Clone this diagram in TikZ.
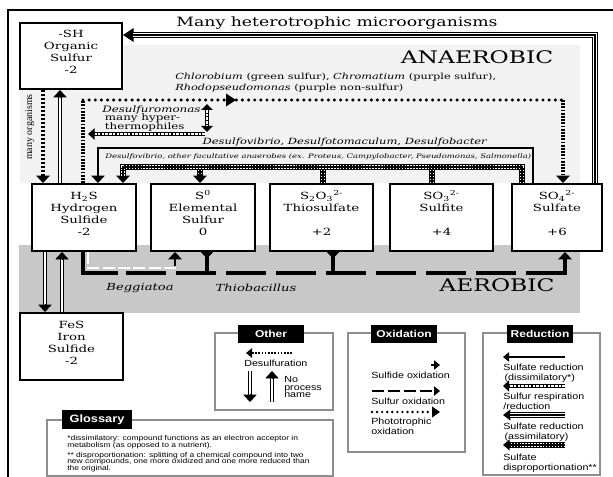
\documentclass[tikz,border=0pt]{standalone}
\usepackage{fontspec}
\setmainfont{DejaVu Serif}[FakeStretch=1.35]
\newfontfamily\legfont{Liberation Sans}[FakeStretch=1.2]
\newfontfamily\narrowserif{Liberation Serif}
\usetikzlibrary{arrows.meta,calc,fit}
\definecolor{anaero}{HTML}{F2F2F2}
\definecolor{aero}{HTML}{C8C8C8}
\definecolor{legline}{HTML}{8E8E8E}
\definecolor{sulfgray}{HTML}{444444}
% layered connector styles
\newcommand\chainpath[3]{%
  \draw[line width=3.2pt,#1] #3;
  \draw[white,line width=1.5pt,dash pattern=on 1.9pt off 0.9pt,#2] #3;}
\newcommand\checkpath[3]{%
  \draw[line width=5pt,#1] #3;
  \draw[white,line width=3pt,dash pattern=on 1.1pt off 1.1pt,#2] #3;
  \draw[line width=0.8pt,#2] #3;}
\newcommand\triplepath[3]{%
  \draw[line width=5pt,#1] #3;
  \draw[white,line width=2.6pt,#2] #3;
  \draw[line width=0.8pt,#2] #3;}
\newcommand\dblpath[2]{%
  \draw[dbl,shorten >=5pt] (#1) -- (#2);
  \draw[tipA,line width=0.5pt] ($(#2)!6pt!(#1)$) -- (#2);}
\tikzset{
  sbox/.style={draw,line width=1.5pt,fill=white,inner sep=0pt,align=center,
    font=\fontsize{7.4}{9}\selectfont},
  big/.style={font=\fontsize{13}{15}\selectfont,inner sep=0pt},
  tipA/.style={-{Triangle[length=5.5pt,width=10pt]}},
  tipS/.style={-{Triangle[length=4.5pt,width=7pt]}},
  dbl/.style={draw,line width=0.6pt,double=white,double distance=1.7pt},
  dotsq/.style={line width=3pt,dash pattern=on 1.5pt off 1.5pt},
  dotrd/.style={line width=2.6pt,line cap=round,dash pattern=on 0pt off 4.6pt},
  dotvert/.style={line width=2.4pt,dash pattern=on 1.3pt off 1.1pt},
  thinline/.style={line width=0.9pt},
  sulfox/.style={line width=2.3pt,dash pattern=on 30pt off 7.5pt,dash phase=27pt},
  sulfoxs/.style={line width=2.3pt},
  sulfide/.style={draw=sulfgray,line width=0.55pt,double=white,double distance=1pt,
    dash pattern=on 9pt off 2.5pt},
  lbl/.style={inner sep=0pt},
  legbox/.style={draw=legline,line width=0.8pt,inner sep=0pt},
  tab/.style={fill=black,text=white,font=\legfont\bfseries\fontsize{7.5}{8}\selectfont,
    minimum width=50pt,minimum height=13.5pt,inner sep=1pt},
  legtxt/.style={anchor=west,inner sep=0pt,align=left,font=\legfont\fontsize{6.7}{7.4}\selectfont},
}
\begin{document}
\begin{tikzpicture}[x=0.75pt,y=-0.75pt]
\useasboundingbox (0,0) rectangle (613,477);
% backgrounds
\fill[anaero] (20,45) rectangle (580,183);
\fill[aero] (19,245) rectangle (580,313);
\draw[line width=0.8pt] (8,477) -- (8,10) -- (613,10);

\foreach \xx in {43,45,60,62,83,88,98,123,175,200,207,323,333,432,522,533,563,565,595}
  \coordinate (X\xx) at (\xx,0);
\coordinate (Y35) at (0,35);

% compound boxes
\node[sbox,fit={(20,23) (122,89)}] (org) {-SH\\Organic\\Sulfur\\-2};
\node[sbox,fit={(32,184) (136,251)}] (h2s) {H\textsubscript{2}S\\Hydrogen\\Sulfide\\-2};
\node[sbox,fit={(151,184) (255,251)}] (s0) {S\textsuperscript{0}\\Elemental\\Sulfur\\0};
\node[sbox,fit={(270,184) (373,251)}] (s2o3) {S\textsubscript{2}O\textsubscript{3}\textsuperscript{2-}\\Thiosulfate\\\mbox{}\\+2};
\node[sbox,fit={(390,184) (493,251)}] (so3) {SO\textsubscript{3}\textsuperscript{2-}\\Sulfite\\\mbox{}\\+4};
\node[sbox,fit={(512,184) (602,251)}] (so4) {SO\textsubscript{4}\textsuperscript{2-}\\Sulfate\\\mbox{}\\+6};
\node[sbox,fit={(20,313) (123,380)}] (fes) {FeS\\Iron\\Sulfide\\-2};

% labels
\node[lbl,font=\fontsize{9.6}{11}\selectfont] (hetero) at (337,23) {Many heterotrophic microorganisms};
\node[big] (anaer) at (477,57) {ANAEROBIC};
\node[big] (aer) at (497,285) {AEROBIC};
\node[lbl,anchor=west,align=left,font=\fontsize{6.3}{8.3}\selectfont] (chl) at (175,82.5)
  {\textit{Chlorobium} (green sulfur), \textit{Chromatium} (purple sulfur),\\\textit{Rhodopseudomonas} (purple non-sulfur)};
\node[lbl,anchor=west,align=left,font=\fontsize{6.6}{6.5}\selectfont] (dfm) at (102,118.5)
  {\textit{Desulfuromonas}\\\hspace{2pt}many hyper-\\\hspace{2pt}thermophiles};
\node[lbl,anchor=east,font=\fontsize{6.4}{8}\itshape\selectfont] (dsv) at (487,142)
  {Desulfovibrio, Desulfotomaculum, Desulfobacter};
\node[lbl,anchor=west,font=\fontsize{4.7}{6}\itshape\selectfont] (fac) at (105,157)
  {Desulfovibrio, other facultative anaerobes (ex. Proteus, Campylobacter, Pseudomonas, Salmonella)};
\node[lbl,rotate=90,font=\narrowserif\fontsize{7.5}{8}\selectfont] (manyorg) at (30,127) {many organisms};
\node[lbl,font=\fontsize{7.3}{9}\itshape\selectfont] (beg) at (140,288) {Beggiatoa};
\node[lbl,font=\fontsize{7.3}{9}\itshape\selectfont] (thio) at (256,288) {Thiobacillus};

% assimilatory sulfate reduction (top)
\triplepath{-{Triangle[length=8pt,width=10pt]}}{shorten >=7.5pt}{(so4.north -| X595) -- (595,35) -- (org.east |- Y35)}

% organic <-> H2S
\draw[dotsq,tipA] (org.south -| X43) -- (h2s.north -| X43);
\coordinate (dA) at (h2s.north -| X60);
\coordinate (dB) at (org.south -| X60);
\dblpath{dA}{dB}

% phototrophic oxidation
\draw[dotvert] (h2s.north -| X83) -- (83,100);
\draw[dotrd] (83,100) -- (563,100);
\fill (236,100) -- (226,93.5) -- (226,106.5) -- cycle;
\draw[dotvert,tipA] (563,100) -- (so4.north -| X563);

% sulfur respiration
\coordinate (srA) at (205,134);
\coordinate (srB) at (88,134);
\chainpath{-{Triangle[length=5pt,width=8.5pt]}}{shorten >=5pt}{(srA) -- (srB)}
\coordinate (srC) at (207,104);
\coordinate (srD) at (207,132);
\chainpath{{Triangle[length=4.5pt,width=8.5pt]}-{Triangle[length=4.5pt,width=8.5pt]}}{shorten >=4.5pt,shorten <=4.5pt}{(srC) -- (srD)}

% dissimilatory sulfate reduction
\draw[thinline,tipA] (so4.north -| X533) -- (533,148) -- (98,148) -- (h2s.north -| X98);

% sulfate disproportionation
\checkpath{-{Triangle[length=5.5pt,width=10pt]}}{shorten >=5.5pt}{(200,167) -- (s0.north -| X200)}
\checkpath{}{}{(s2o3.north -| X323) -- (323,167)}
\checkpath{}{}{(so3.north -| X432) -- (432,167)}
\checkpath{-{Triangle[length=5.5pt,width=10pt]}}{shorten >=5.5pt}{(so4.north -| X522) -- (522,167) -- (123,167) -- (h2s.north -| X123)}

% sulfide oxidation (Beggiatoa)
\draw[sulfide,shorten >=8pt] (h2s.south -| X88) -- (88,268) -- (175,268) -- (s0.south -| X175);
\draw[tipA,line width=2pt] ($(s0.south -| X175)+(0,14)$) -- (s0.south -| X175);

% sulfur oxidation (Thiobacillus)
\draw[sulfox,shorten >=6pt] (h2s.south -| X83) -- (83,273) -- (565,273) -- (so4.south -| X565);
\draw[sulfoxs] (h2s.south -| X83) -- (83,273) -- (118,273);
\draw[sulfoxs,tipA] (528,273) -- (565,273) -- (so4.south -| X565);
\draw[sulfoxs,{Triangle[reversed,length=5pt,width=9pt]}-] (s0.south -| X207) -- (207,273);
\draw[sulfoxs,{Triangle[reversed,length=5pt,width=9pt]}-] (s2o3.south -| X333) -- (333,273);

% H2S <-> FeS
\coordinate (fA) at (h2s.south -| X45);
\coordinate (fB) at (fes.north -| X45);
\dblpath{fA}{fB}
\coordinate (fC) at (fes.north -| X62);
\coordinate (fD) at (h2s.south -| X62);
\dblpath{fC}{fD}

% ---------- legend: Other ----------
\node[legbox,fit={(215,333) (333,410)}] (otherbox) {};
\node[tab] (othertab) at (271,334) {Other};
\coordinate (dsS) at (292,353);
\coordinate (dsE) at (246,353);
\draw[line width=1.6pt,dash pattern=on 1.2pt off 1.2pt,tipS] (dsS) -- (dsE);
\node[legtxt] (dstxt) at (244,363) {Desulfuration};
\coordinate (npA) at (250,371);
\coordinate (npB) at (250,402);
\dblpath{npA}{npB}
\coordinate (npC) at (272,402);
\coordinate (npD) at (272,371);
\dblpath{npC}{npD}
\node[legtxt,font=\legfont\fontsize{6.7}{5.6}\selectfont] (nptxt) at (284,387) {No\\process\\name};

% ---------- legend: Oxidation ----------
\node[legbox,fit={(348,333) (465,452)}] (oxbox) {};
\node[tab] (oxtab) at (404,334) {Oxidation};
\coordinate (soA) at (372,365);
\coordinate (soB) at (440,365);
\draw[sulfide,shorten >=7pt] (soA) -- (soB);
\draw[tipS,line width=0.8pt] ($(soB)+(-9,0)$) -- (soB);
\node[legtxt] (sotxt) at (371,375) {Sulfide oxidation};
\coordinate (suA) at (372,391);
\coordinate (suB) at (440,391);
\draw[line width=1.4pt,dash pattern=on 9pt off 3pt,tipS] (suA) -- (suB);
\node[legtxt] (sutxt) at (371,401) {Sulfur oxidation};
\coordinate (phA) at (372,412);
\coordinate (phB) at (440,412);
\draw[line width=2pt,line cap=round,dash pattern=on 0pt off 3.8pt,-{Triangle[length=6pt,width=8pt]}] (phA) -- (phB);
\node[legtxt] (phtxt) at (371,426.5) {Phototrophic\\oxidation};

% ---------- legend: Reduction ----------
\node[legbox,fit={(483,333) (600,475)}] (redbox) {};
\node[tab] (redtab) at (540,334) {Reduction};
\coordinate (rdA) at (565,357);
\coordinate (rdB) at (503,357);
\draw[thinline,tipS] (rdA) -- (rdB);
\node[legtxt] (rdtxt) at (503,373) {Sulfate reduction\\\hspace{1pt}(dissimilatory*)};
\coordinate (rsA) at (565,386);
\coordinate (rsB) at (503,386);
\chainpath{-{Triangle[length=4.5pt,width=8pt]}}{shorten >=4.5pt}{(rsA) -- (rsB)}
\node[legtxt] (rstxt) at (503,401) {Sulfur respiration\\/reduction};
\coordinate (raA) at (565,415);
\coordinate (raB) at (503,415);
\triplepath{-{Triangle[length=5.5pt,width=8pt]}}{shorten >=5pt}{(raA) -- (raB)}
\node[legtxt] (ratxt) at (503,432) {Sulfate reduction\\\hspace{1pt}(assimilatory)};
\coordinate (rpA) at (565,445);
\coordinate (rpB) at (503,445);
\checkpath{-{Triangle[length=5pt,width=8pt]}}{shorten >=5pt}{(rpA) -- (rpB)}
\node[legtxt] (rptxt) at (503,463) {Sulfate\\disproportionation**};

% ---------- Glossary ----------
\node[legbox,fit={(47,420) (333,476)}] (glbox) {};
\node[tab,font=\legfont\bfseries\fontsize{8}{9}\selectfont,minimum width=52.5pt,minimum height=14pt] (gltab) at (97,419.5) {Glossary};
\node[lbl,anchor=north west,align=left,font=\legfont\fontsize{5.3}{5}\selectfont] (gltxt) at (67,435)
  {*dissimilatory: compound functions as an electron acceptor in\\
   metabolism (as opposed to a nutrient).\\[2.5pt]
   ** disproportionation: splitting of a chemical compound into two\\
   new compounds, one more oxidized and one more reduced than\\
   the original.};
\end{tikzpicture}
\end{document}
